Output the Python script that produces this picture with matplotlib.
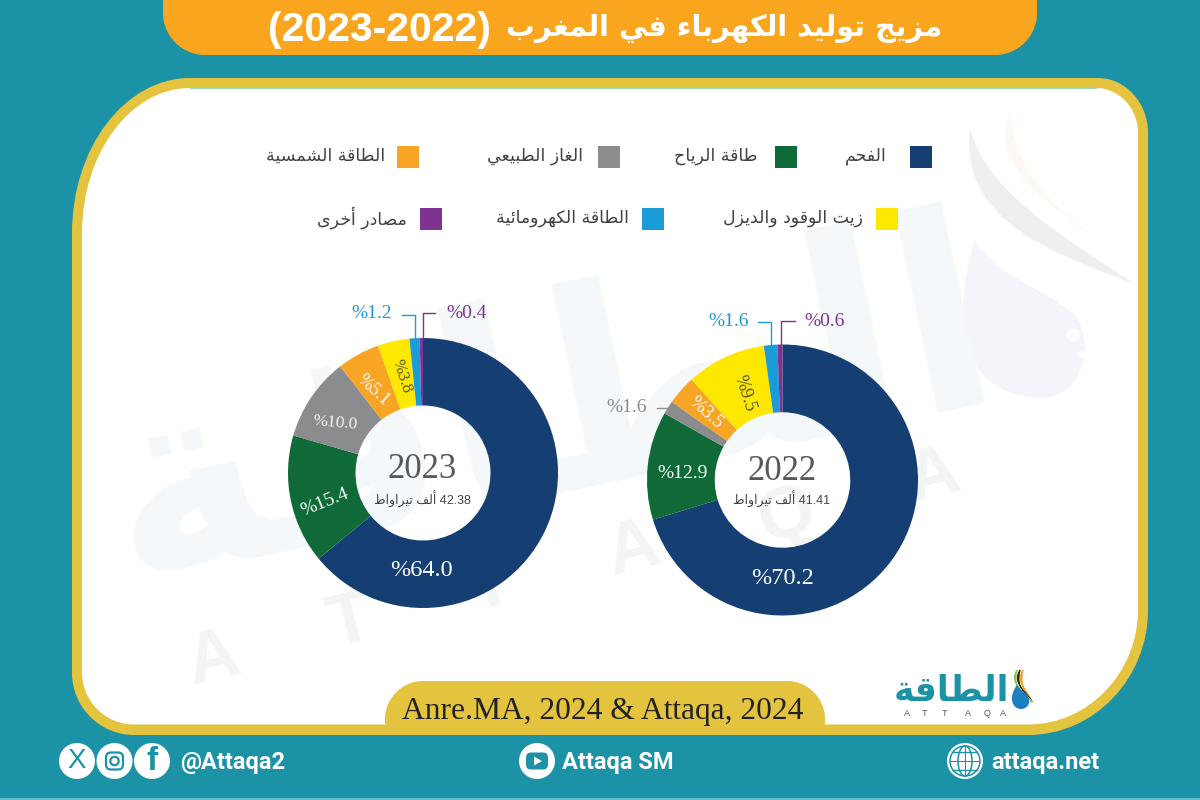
import matplotlib
matplotlib.use("Agg")
import matplotlib.pyplot as plt
from matplotlib.patches import Circle, Ellipse, FancyBboxPatch, PathPatch, Polygon, Rectangle
from matplotlib.path import Path

TITLE_AR = "مزيج توليد الكهرباء في المغرب"
TITLE_YEARS = "(2023-2022)"
SOURCE = "Anre.MA, 2024 & Attaqa, 2024"
UNIT_AR = "ألف تيراواط"

CATEGORIES = [
    "الفحم",
    "طاقة الرياح",
    "الغاز الطبيعي",
    "الطاقة الشمسية",
    "زيت الوقود والديزل",
    "الطاقة الكهرومائية",
    "مصادر أخرى",
]
COLORS = ["#153E73", "#0F6A38", "#8A8C8E", "#F8A526", "#FFE800", "#1B9BD8", "#7F3391"]

YEAR_A = "2023"
VALUES_A = [64.0, 15.4, 10.0, 5.1, 3.8, 1.2, 0.4]
TOTAL_A = "42.38"
YEAR_B = "2022"
VALUES_B = [70.2, 12.9, 1.6, 3.5, 9.5, 1.6, 0.6]
TOTAL_B = "41.41"

# layout, all in image pixels: x, y, rotation, size, colour of each value label
LABELS_A = [
    (421, 570, 0, 17.5, "white"),
    (325, 502, 22, 14, "white"),
    (335, 423, -5, 12.5, "#F2F2F2"),
    (373, 390, -42, 13, "white"),
    (402, 376, -72, 12, "#555533"),
    (372, 314, 0, 14, COLORS[5]),
    (467, 313, 0, 14, COLORS[6]),
]
LABELS_B = [
    (783, 578, 0, 17.5, "white"),
    (683, 474, 0, 14, "white"),
    (627, 407, 0, 14, COLORS[2]),
    (706, 413, -42, 13.5, "white"),
    (744, 393, -72, 13, "#555533"),
    (729, 322, 0, 14, COLORS[5]),
    (825, 321, 0, 14, COLORS[6]),
]
LEADERS = [
    ([402, 415, 415], [315, 315, 338], COLORS[5]),
    ([435, 423, 423], [313, 313, 338], COLORS[6]),
    ([758, 771, 771], [322, 322, 345], COLORS[5]),
    ([795, 781, 781], [321, 321, 345], COLORS[6]),
    ([657, 668], [408, 408], COLORS[2]),
]
LEGEND_POS = [(910, 146, 887), (775, 146, 758), (598, 146, 583), (397, 146, 385),
              (876, 208, 863), (642, 208, 629), (420, 208, 407)]

TEAL = "#1C92A7"
GOLD = "#E4C33F"
ORANGE = "#F9A61E"
SERIF = ["Liberation Serif", "DejaVu Sans"]
SANS = ["Liberation Sans", "DejaVu Sans"]

# first presentation form of each letter and how many forms it has (iso, final, init, medial)
ARABIC_FORMS = {
    "ء": (0xFE80, 1), "آ": (0xFE81, 2), "أ": (0xFE83, 2), "ؤ": (0xFE85, 2), "إ": (0xFE87, 2),
    "ئ": (0xFE89, 4), "ا": (0xFE8D, 2), "ب": (0xFE8F, 4), "ة": (0xFE93, 2), "ت": (0xFE95, 4),
    "ث": (0xFE99, 4), "ج": (0xFE9D, 4), "ح": (0xFEA1, 4), "خ": (0xFEA5, 4), "د": (0xFEA9, 2),
    "ذ": (0xFEAB, 2), "ر": (0xFEAD, 2), "ز": (0xFEAF, 2), "س": (0xFEB1, 4), "ش": (0xFEB5, 4),
    "ص": (0xFEB9, 4), "ض": (0xFEBD, 4), "ط": (0xFEC1, 4), "ظ": (0xFEC5, 4), "ع": (0xFEC9, 4),
    "غ": (0xFECD, 4), "ف": (0xFED1, 4), "ق": (0xFED5, 4), "ك": (0xFED9, 4), "ل": (0xFEDD, 4),
    "م": (0xFEE1, 4), "ن": (0xFEE5, 4), "ه": (0xFEE9, 4), "و": (0xFEED, 2), "ى": (0xFEEF, 2),
    "ي": (0xFEF1, 4),
}


def ar(text):
    # matplotlib does no shaping, so pick the joined glyphs and lay them out right to left
    out = []
    for i, ch in enumerate(text):
        if ch not in ARABIC_FORMS:
            out.append(ch)
            continue
        start, n = ARABIC_FORMS[ch]
        prev = text[i - 1] if i > 0 else " "
        nxt = text[i + 1] if i + 1 < len(text) else " "
        from_prev = prev in ARABIC_FORMS and ARABIC_FORMS[prev][1] == 4
        to_next = n == 4 and nxt in ARABIC_FORMS
        if from_prev and to_next:
            out.append(chr(start + 3))
        elif to_next:
            out.append(chr(start + 2))
        elif from_prev and n > 1:
            out.append(chr(start + 1))
        else:
            out.append(chr(start))
    return "".join(reversed(out))


def rounded(x0, y0, x1, y1, tl, tr, br, bl):
    # box with elliptical corners, each corner given as (rx, ry)
    k = 0.45
    verts = [(x0 + tl[0], y0), (x1 - tr[0], y0),
             (x1 - tr[0] * k, y0), (x1, y0 + tr[1] * k), (x1, y0 + tr[1]),
             (x1, y1 - br[1]),
             (x1, y1 - br[1] * k), (x1 - br[0] * k, y1), (x1 - br[0], y1),
             (x0 + bl[0], y1),
             (x0 + bl[0] * k, y1), (x0, y1 - bl[1] * k), (x0, y1 - bl[1]),
             (x0, y0 + tl[1]),
             (x0, y0 + tl[1] * k), (x0 + tl[0] * k, y0), (x0 + tl[0], y0)]
    c = Path.CURVE4
    codes = [Path.MOVETO, Path.LINETO, c, c, c, Path.LINETO, c, c, c, Path.LINETO, c, c, c,
             Path.LINETO, c, c, c]
    return Path(verts, codes)


def blob(points):
    # closed shape from cubic segments: start point, then three points per segment
    codes = [Path.MOVETO] + [Path.CURVE4] * (len(points) - 1)
    return Path(points, codes)


def draw_backdrop(ax):
    ax.add_patch(Rectangle((0, 0), 1200, 800, fc=TEAL, ec="none"))
    ax.plot([0, 1200], [798.5, 798.5], color="#62BCCB", lw=1.5)
    ax.add_patch(PathPatch(rounded(163, -30, 1037, 55, (30, 30), (30, 30), (42, 42), (42, 42)),
                           fc=ORANGE, ec="none"))
    ax.add_patch(PathPatch(rounded(72, 78, 1148, 735, (118, 155), (50, 55), (120, 125), (62, 62)),
                           fc=GOLD, ec="none"))
    ax.add_patch(PathPatch(rounded(82, 88, 1138, 724.5, (108, 145), (42, 45), (110, 115), (52, 52)),
                           fc="white", ec="none"))
    ax.plot([190, 1096], [88.3, 88.3], color="#8CCFA8", lw=0.6)
    ax.plot([134, 1028], [724.7, 724.7], color="#8CCFA8", lw=0.6)

    # pale watermark behind the charts
    ax.text(550, 415, ar("الطاقة"), fontsize=195, family="DejaVu Sans", weight="bold",
            color="#F4F8FB", rotation=12, ha="center", va="center")
    wm = [("A", 213, 660), ("T", 350, 623), ("T", 490, 587), ("A", 633, 550), ("Q", 787, 517), ("A", 933, 477)]
    for ch, x, y in wm:
        ax.text(x, y, ch, fontsize=52, family=SANS, weight="bold", color="#F3F4F6", rotation=14,
                ha="center", va="center")
    ax.add_patch(PathPatch(blob([(970, 128), (985, 190), (1060, 235), (1133, 283),
                                 (1040, 250), (960, 215), (970, 128)]),
                           fc="#EFEFF2", ec="none"))
    ax.add_patch(PathPatch(blob([(1012, 112), (985, 160), (1040, 200), (1120, 255),
                                 (1060, 215), (1010, 170), (1012, 112)]),
                           fc="#FEF8F5", ec="none"))
    ax.add_patch(PathPatch(blob([(975, 240), (955, 300), (950, 395), (1040, 398),
                                 (1085, 398), (1095, 340), (1075, 315),
                                 (1040, 285), (1000, 280), (975, 240)]),
                           fc="#F4F5FA", ec="none"))
    ax.add_patch(Circle((1073, 335), 6.5, fc="white", ec="none"))
    ax.add_patch(Circle((1081, 354), 3.5, fc="white", ec="none"))

    # source tab, above the thin line along the card edge
    ax.add_patch(PathPatch(rounded(385, 681, 825, 735, (38, 38), (38, 38), (1, 1), (1, 1)),
                           fc=GOLD, ec="none", zorder=3))


def draw_logo(ax):
    ax.text(952, 691, ar("الطاقة"), fontsize=25, family="DejaVu Sans", weight="bold", color=TEAL,
            ha="center", va="center")
    for ch, x in zip("ATTAQA", [907, 925, 945, 968, 987, 1003]):
        ax.text(x, 713.5, ch, fontsize=6.5, family=SANS, color="#555555", ha="center", va="center")
    for col, dx in [("#F39C1F", 6), ("#222222", 3), ("#8CC63F", 0)]:
        ax.add_patch(PathPatch(blob([(1017 + dx, 670), (1010 + dx, 682), (1018 + dx, 686), (1032, 702),
                                     (1024 + dx, 692), (1012 + dx, 690), (1017 + dx, 670)]),
                           fc=col, ec=col, lw=0.8))
    ax.add_patch(PathPatch(blob([(1017, 685), (1008, 697), (1012, 709), (1021, 709),
                                 (1030, 709), (1032, 698), (1025, 693),
                                 (1021, 691), (1019, 688), (1017, 685)]),
                           fc="#1B7FC1", ec="none"))


def draw_footer(ax):
    for cx in [77, 114.5, 152, 537, 965]:
        ax.add_patch(Circle((cx, 761), 18, fc="white", ec="none"))
    ax.text(77, 761, "X", fontsize=20, family=SANS, color=TEAL, ha="center", va="center")
    ax.add_patch(FancyBboxPatch((106, 752.5), 17, 17, boxstyle="round,pad=0,rounding_size=5",
                                fc="none", ec=TEAL, lw=1.6))
    ax.add_patch(Circle((114.5, 761), 4.2, fc="none", ec=TEAL, lw=1.6))
    ax.text(152, 761, "f", fontsize=24, family=SANS, weight="bold", color=TEAL, ha="center", va="center")
    ax.add_patch(FancyBboxPatch((526, 752.5), 22, 17, boxstyle="round,pad=0,rounding_size=5",
                                fc=TEAL, ec="none"))
    ax.add_patch(Polygon([(534, 756.5), (534, 765.5), (542, 761)], fc="white", ec="none"))
    ax.add_patch(Circle((965, 761), 15, fc="none", ec=TEAL, lw=1.1))
    ax.add_patch(Rectangle((950, 760.5), 30, 1, fc=TEAL, ec="none"))
    ax.add_patch(Rectangle((964.5, 746), 1, 30, fc=TEAL, ec="none"))
    ax.add_patch(Ellipse((965, 761), 14, 30, fc="none", ec=TEAL, lw=1.1))
    for y in [752, 770]:
        ax.plot([953, 977], [y, y], color=TEAL, lw=1)
    for x, s in [(180, "@Attaqa2"), (562, "Attaqa SM"), (991, "attaqa.net")]:
        ax.text(x, 762, s, fontsize=17, family=["Roboto", "DejaVu Sans"], weight="bold", color="white",
                ha="left", va="center")


def draw_donut(fig, values, cx, cy, radius):
    dax = fig.add_axes([(cx - radius) / 1200, 1 - (cy + radius) / 800, 2 * radius / 1200, 2 * radius / 800],
                       zorder=1)
    dax.pie(values, colors=COLORS, startangle=90, counterclock=False, radius=1,
            wedgeprops=dict(width=0.5, edgecolor="none", clip_on=False))
    dax.set_xlim(-1, 1)
    dax.set_ylim(-1, 1)


def draw_labels(ax, values, layout, year, total, cx, year_y):
    for v, (x, y, rot, size, col) in zip(values, layout):
        ax.text(x, y, f"%{v:.1f}", fontsize=size, family=SERIF, color=col, rotation=rot,
                ha="center", va="center", rotation_mode="anchor")
    ax.text(cx, year_y, year, fontsize=25, family=SERIF, color="#58595B", ha="center", va="center")
    ax.text(cx, 499, ar(UNIT_AR) + " " + total, fontsize=9, family=SANS, color="#444444",
            ha="center", va="center")


fig = plt.figure(figsize=(12, 8), dpi=100)
bg = fig.add_axes([0, 0, 1, 1], zorder=0)
top = fig.add_axes([0, 0, 1, 1], zorder=2)
for a in (bg, top):
    a.set_xlim(0, 1200)
    a.set_ylim(800, 0)
    a.axis("off")

draw_backdrop(bg)
draw_donut(fig, VALUES_A, 423, 473, 135)
draw_donut(fig, VALUES_B, 782.5, 480, 135.5)

top.text(268, 30, TITLE_YEARS, fontsize=29.5, family=SANS, weight="bold", color="white",
         ha="left", va="center")
top.text(942, 28, ar(TITLE_AR), fontsize=20.7, family="DejaVu Sans", weight="bold", color="white",
         ha="right", va="center")
top.text(603, 711, SOURCE, fontsize=22.7, family=SERIF, color="#222222", ha="center", va="center")

for name, col, (sx, sy, tx) in zip(CATEGORIES, COLORS, LEGEND_POS):
    top.add_patch(Rectangle((sx, sy), 21.5, 21.5, fc=col, ec="none"))
    top.text(tx, sy + 10, ar(name), fontsize=12.5, family="DejaVu Sans", color="#414042", ha="right", va="center")

for xs, ys, col in LEADERS:
    top.plot(xs, ys, color=col, lw=1)

draw_labels(top, VALUES_A, LABELS_A, YEAR_A, TOTAL_A, 422, 469)
draw_labels(top, VALUES_B, LABELS_B, YEAR_B, TOTAL_B, 782, 472)
draw_logo(top)
draw_footer(top)

fig.savefig("out.png", dpi=100)
